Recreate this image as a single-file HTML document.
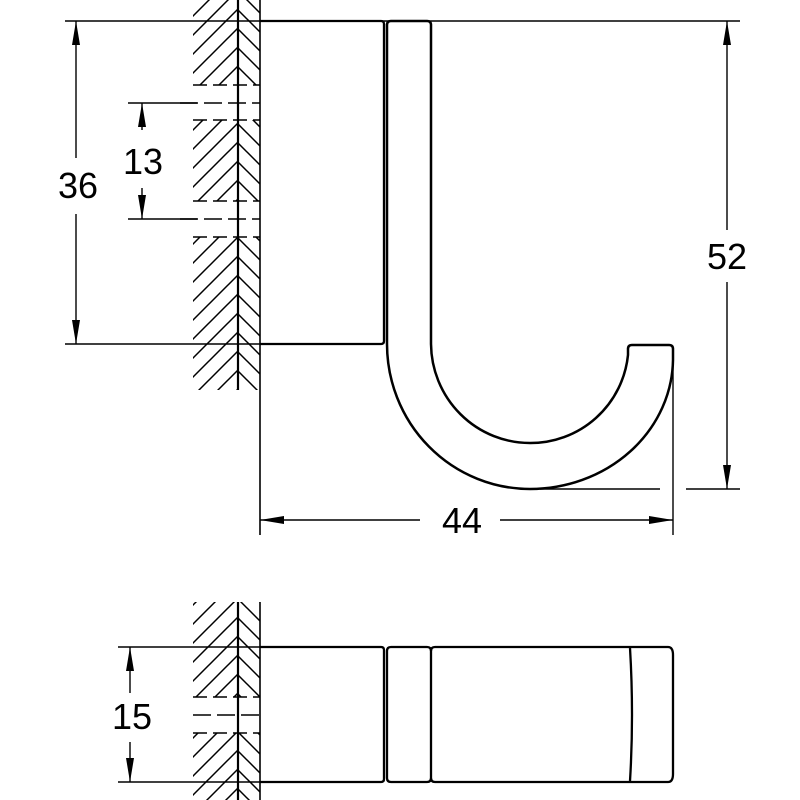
<!DOCTYPE html>
<html><head><meta charset="utf-8"><style>html,body{margin:0;padding:0;background:#fff}svg{display:block}</style></head><body>
<svg width="800" height="800" viewBox="0 0 800 800" xmlns="http://www.w3.org/2000/svg" font-family="Liberation Sans, sans-serif">
<defs>
<pattern id="h1" patternUnits="userSpaceOnUse" width="19" height="19"><path d="M-5,24 L24,-5 M-5,5 L5,-5 M14,24 L24,14" stroke="#000" stroke-width="1.5"/></pattern>
<pattern id="h2" patternUnits="userSpaceOnUse" width="19" height="19"><path d="M-5,-5 L24,24 M-5,14 L5,24 M14,-5 L24,5" stroke="#000" stroke-width="1.5"/></pattern>
</defs>
<g fill="none" stroke="#000">
<rect x="193" y="0" width="44" height="85" fill="url(#h1)" stroke="none"/>
<rect x="193" y="120" width="44" height="81" fill="url(#h1)" stroke="none"/>
<rect x="193" y="237" width="44" height="153" fill="url(#h1)" stroke="none"/>
<rect x="239" y="0" width="21" height="85" fill="url(#h2)" stroke="none"/>
<rect x="239" y="120" width="21" height="81" fill="url(#h2)" stroke="none"/>
<rect x="239" y="237" width="21" height="153" fill="url(#h2)" stroke="none"/>
<line x1="238" y1="0" x2="238" y2="390" stroke-width="2.2"/>
<line x1="260" y1="0" x2="260" y2="535" stroke-width="1.6"/>
<path d="M193,85 H260 M193,120 H260 M193,201 H260 M193,237 H260" stroke-width="1.5" stroke-dasharray="14,6"/>
<path d="M180,103 H260 M180,219 H260" stroke-width="1.5" stroke-dasharray="18,6"/>
<line x1="65" y1="21" x2="740" y2="21" stroke-width="1.4"/>
<line x1="65" y1="344" x2="260" y2="344" stroke-width="1.4"/>
<path d="M260,21 H381 Q384,21 384,24 V341 Q384,344 381,344 H260" stroke-width="2.3"/>
<path d="M387,344 V25 Q387,21 391,21 H427 Q431,21 431,25 V344 A99,100 0 0 0 530,443 A98,98 0 0 0 628,355 V349 Q628,345 632,345 H669 Q673,345 673,349 V360 A143,131 0 0 1 530,489 A143,145 0 0 1 387,344" stroke-width="2.5"/>
<path d="M540,489 H660 M686,489 H740" stroke-width="1.4"/>
<line x1="673" y1="360" x2="673" y2="535" stroke-width="1.4"/>
<path d="M128,103 H197 M128,219 H197" stroke-width="1.4"/>
<path d="M76,21 V158 M76,214 V344" stroke-width="1.4"/>
<path d="M142,103 V130 M142,188 V219" stroke-width="1.4"/>
<path d="M727,21 V230 M727,282 V489" stroke-width="1.4"/>
<path d="M260,520 H420 M500,520 H673" stroke-width="1.4"/>
<path d="M130,647 V693 M130,742 V782" stroke-width="1.4"/>
</g>
<g fill="#000">
<path d="M76,21 l-4,24 h8z M76,344 l-4,-24 h8z"/>
<path d="M142,103 l-4,24 h8z M142,219 l-4,-24 h8z"/>
<path d="M727,21 l-4,24 h8z M727,489 l-4,-24 h8z"/>
<path d="M260,520 l24,-4 v8z M673,520 l-24,-4 v8z"/>
<path d="M130,647 l-4,24 h8z M130,782 l-4,-24 h8z"/>
</g>
<g font-size="36" text-anchor="middle" fill="#000">
<text x="78" y="198">36</text>
<text x="143" y="174">13</text>
<text x="727" y="269">52</text>
<text x="462" y="533">44</text>
<text x="132" y="729">15</text>
</g>
<g fill="none" stroke="#000">
<rect x="193" y="602" width="44" height="95" fill="url(#h1)" stroke="none"/>
<rect x="193" y="733" width="44" height="67" fill="url(#h1)" stroke="none"/>
<rect x="239" y="602" width="21" height="95" fill="url(#h2)" stroke="none"/>
<rect x="239" y="733" width="21" height="67" fill="url(#h2)" stroke="none"/>
<line x1="238" y1="602" x2="238" y2="800" stroke-width="2.2"/>
<line x1="260" y1="602" x2="260" y2="800" stroke-width="1.6"/>
<path d="M193,697 H260 M193,733 H260" stroke-width="1.5" stroke-dasharray="14,6"/>
<path d="M193,715 H260" stroke-width="1.5" stroke-dasharray="18,6"/>
<path d="M118,647 H260 M118,782 H260" stroke-width="1.4"/>
<path d="M260,647 H381 Q384,647 384,650 V779 Q384,782 381,782 H260" stroke-width="2.3"/>
<path d="M391,647 H427 Q431,647 431,651 V778 Q431,782 427,782 H391 Q387,782 387,778 V651 Q387,647 391,647 Z" stroke-width="2.3"/>
<path d="M431,651 Q431,647 435,647 H668 Q673,647 673,655 V774 Q673,782 668,782 H435 Q431,782 431,778" stroke-width="2.3"/>
<path d="M630,648 Q634,715 630,781" stroke-width="2.3"/>
</g>
</svg>
</body></html>
